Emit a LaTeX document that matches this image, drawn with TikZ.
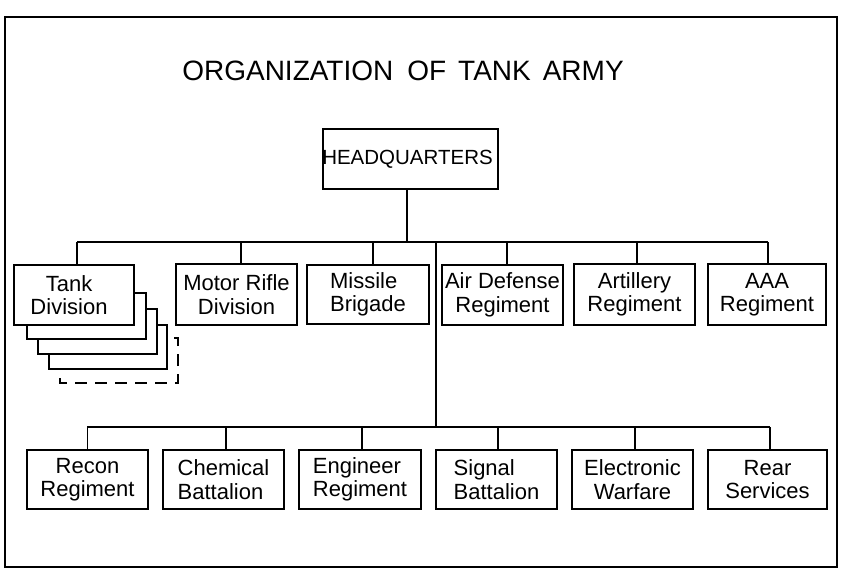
\documentclass[tikz,border=0pt]{standalone}
\usepackage{fontspec}
\setmainfont{Liberation Sans}
\begin{document}
\begin{tikzpicture}[x=1pt,y=-1pt,
  unit/.style={draw, line width=1.8pt, fill=white, inner sep=0pt, align=center,
    font=\fontsize{22}{23.5}\selectfont},
  lunit/.style={unit, align=left},
  conn/.style={line width=1.8pt},
  frame/.style={line width=2.6pt},
  back/.style={line width=1.8pt, fill=white}]
\useasboundingbox (0,0) rectangle (864,576);
\draw[frame] (5,17) rectangle (837,567);
\node[anchor=base, font=\fontsize{28}{30}\selectfont] (title) at (403,80)
  {ORGANIZATION\hspace{14pt}OF\hspace{12pt}TANK\hspace{12pt}ARMY};

% headquarters
\node[unit, minimum width=175pt, minimum height=60pt, font=\fontsize{20.5}{22}\selectfont] (hq) at (410.5,159) {\hspace{-6pt}HEADQUARTERS};

% stacked tank divisions
\draw[back, dash pattern=on 12pt off 8pt] (60,338) rectangle (178,383);
\draw[back] (49,325) rectangle (167,369);
\draw[back] (38,309) rectangle (157,354);
\draw[back] (27,293) rectangle (146,339);

% top row
\node[unit, minimum width=120pt, minimum height=60pt] (tank) at (74,295) {\hspace{-10pt}Tank\\\hspace{-10pt}Division};
\node[unit, minimum width=121pt, minimum height=61pt] (motor) at (236.5,294.5) {Motor Rifle\\Division\hspace{6pt}};
\node[lunit, minimum width=122pt, minimum height=59pt] (missile) at (368,294.5) {Missile\\Brigade};
\node[unit, minimum width=121pt, minimum height=60pt] (airdef) at (502.5,295) {Air Defense\\Regiment};
\node[unit, minimum width=121pt, minimum height=61pt] (art) at (634.5,294.5) {Artillery\\Regiment};
\node[unit, minimum width=118pt, minimum height=61pt] (aaa) at (767,294.5) {AAA\\Regiment};

% bottom row
\node[unit, minimum width=121pt, minimum height=59pt] (recon) at (87.5,479.5) {Recon\\Regiment};
\node[lunit, minimum width=121pt, minimum height=59pt] (chem) at (223.5,479.5) {Chemical\\Battalion};
\node[lunit, minimum width=122pt, minimum height=59pt] (eng) at (360,479.5) {Engineer\\Regiment};
\node[lunit, minimum width=121pt, minimum height=59pt] (sig) at (496.5,479.5) {Signal\\Battalion};
\node[unit, minimum width=121pt, minimum height=59pt] (ew) at (632.5,479.5) {Electronic\\Warfare};
\node[unit, minimum width=119pt, minimum height=59pt] (rear) at (767.5,479.5) {Rear\\Services};

% bus coordinates
\coordinate (tbusL) at (77,242);
\coordinate (tbusR) at (768,242);
\coordinate (trunk) at (436,242);
\coordinate (bbus) at (436,427);
\coordinate (bbusL) at (87,427);
\coordinate (bbusR) at (770,427);

% connectors
\draw[conn] ([xshift=-3.5pt]hq.south) -- ([xshift=-3.5pt]hq.south |- trunk);
\draw[conn] (tbusL) -- (tbusR);
\draw[conn] (trunk) -- (bbus);
\draw[conn] (bbusL) -- (bbusR);
\foreach \n/\dx in {tank/3, motor/4.5, missile/5, airdef/4.5, art/2.5, aaa/1}
  \draw[conn] ([xshift=\dx pt]\n.north) -- ([xshift=\dx pt]\n.north |- tbusL);
\foreach \n/\dx in {recon/0, chem/2.5, eng/2, sig/1.5, ew/2.5, rear/2.5}
  \draw[conn] ([xshift=\dx pt]\n.north) -- ([xshift=\dx pt]\n.north |- bbusL);
\end{tikzpicture}
\end{document}
